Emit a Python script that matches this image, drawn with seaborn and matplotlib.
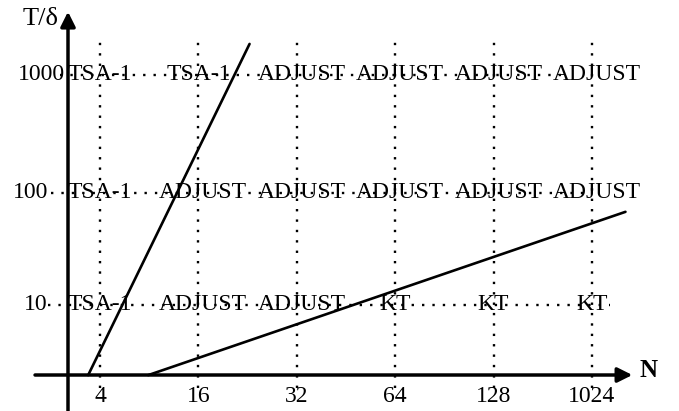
import numpy as np
import pandas as pd
import matplotlib
matplotlib.use("Agg")
import matplotlib.pyplot as plt
import seaborn as sns

# ---- data ----
n_labels = ["4", "16", "32", "64", "128", "1024"]
t_labels = ["10", "100", "1000"]
t_levels = [1, 2, 3]
row_10 = ["TSA-1", "ADJUST", "ADJUST", "KT", "KT", "KT"]
row_100 = ["TSA-1", "ADJUST", "ADJUST", "ADJUST", "ADJUST", "ADJUST"]
row_1000 = ["TSA-1", "TSA-1", "ADJUST", "ADJUST", "ADJUST", "ADJUST"]
rows = [row_10, row_100, row_1000]

# boundary lines (column index, log10 T/delta)
boundary_a_x = [-0.12, 1.52]
boundary_a_y = [0.39, 3.27]
boundary_b_x = [0.49, 5.34]
boundary_b_y = [0.39, 1.81]

sns.set_theme(style="white")
plt.rcParams["font.family"] = ["Liberation Serif", "DejaVu Serif"]

fig = plt.figure(figsize=(6.79, 4.11), dpi=100)
ax = fig.add_axes([0, 0, 1, 1])
ax.set_xlim(-1.016, 5.884)
ax.set_ylim(0.078, 3.652)
ax.axis("off")

x_axis_y = 0.391
y_axis_x = -0.325
fs = 17

# vertical dotted grid
dots = (0, (1, 3.4))
for i, lab in enumerate(n_labels):
    ax.plot([i, i], [0.278, 3.287], color="black", lw=1.7, linestyle=dots, zorder=1)
    ax.text(i, 0.2, lab, ha="center", va="center", fontsize=fs, color="black")

# horizontal dotted rows with labels
row_starts = [-0.53, -0.5, -0.41]
row_ends = [5.18, 5.0, 4.7]
tick_right = [-0.53, -0.53, -0.36]
row_shift = [0.0, -0.025, 0.0]
for lvl, lab, labels, xs, xe, tr, sh in zip(t_levels, t_labels, rows, row_starts,
                                            row_ends, tick_right, row_shift):
    y = lvl + sh
    ax.plot([xs, xe], [y, y], color="black", lw=1.7, linestyle=dots, zorder=1)
    ax.text(tr, y, lab, ha="right", va="center", fontsize=fs, color="black")
    for i, s in enumerate(labels):
        off = 0.05 if s == "ADJUST" else 0.0
        ax.text(i + off, y, s, ha="center", va="center", fontsize=fs, color="black", zorder=3)

# boundary lines
sns.lineplot(x=boundary_a_x, y=boundary_a_y, ax=ax, color="black", lw=1.9,
             estimator=None, sort=False)
sns.lineplot(x=boundary_b_x, y=boundary_b_y, ax=ax, color="black", lw=1.9,
             estimator=None, sort=False)

# axes with arrows
ax.annotate("", xy=(5.41, x_axis_y), xytext=(-0.66, x_axis_y),
            arrowprops=dict(arrowstyle="-|>", lw=2.5, color="black",
                            mutation_scale=22, shrinkA=0, shrinkB=0))
ax.annotate("", xy=(y_axis_x, 3.55), xytext=(y_axis_x, 0.06),
            arrowprops=dict(arrowstyle="-|>", lw=2.5, color="black",
                            mutation_scale=22, shrinkA=0, shrinkB=0))
ax.text(5.57, x_axis_y + 0.04, "N", ha="center", va="center", fontsize=18,
        fontweight="bold", color="black")
ax.text(-0.6, 3.49, "T/δ", ha="center", va="center", fontsize=19, color="black")

fig.savefig("out.png", dpi=100)
